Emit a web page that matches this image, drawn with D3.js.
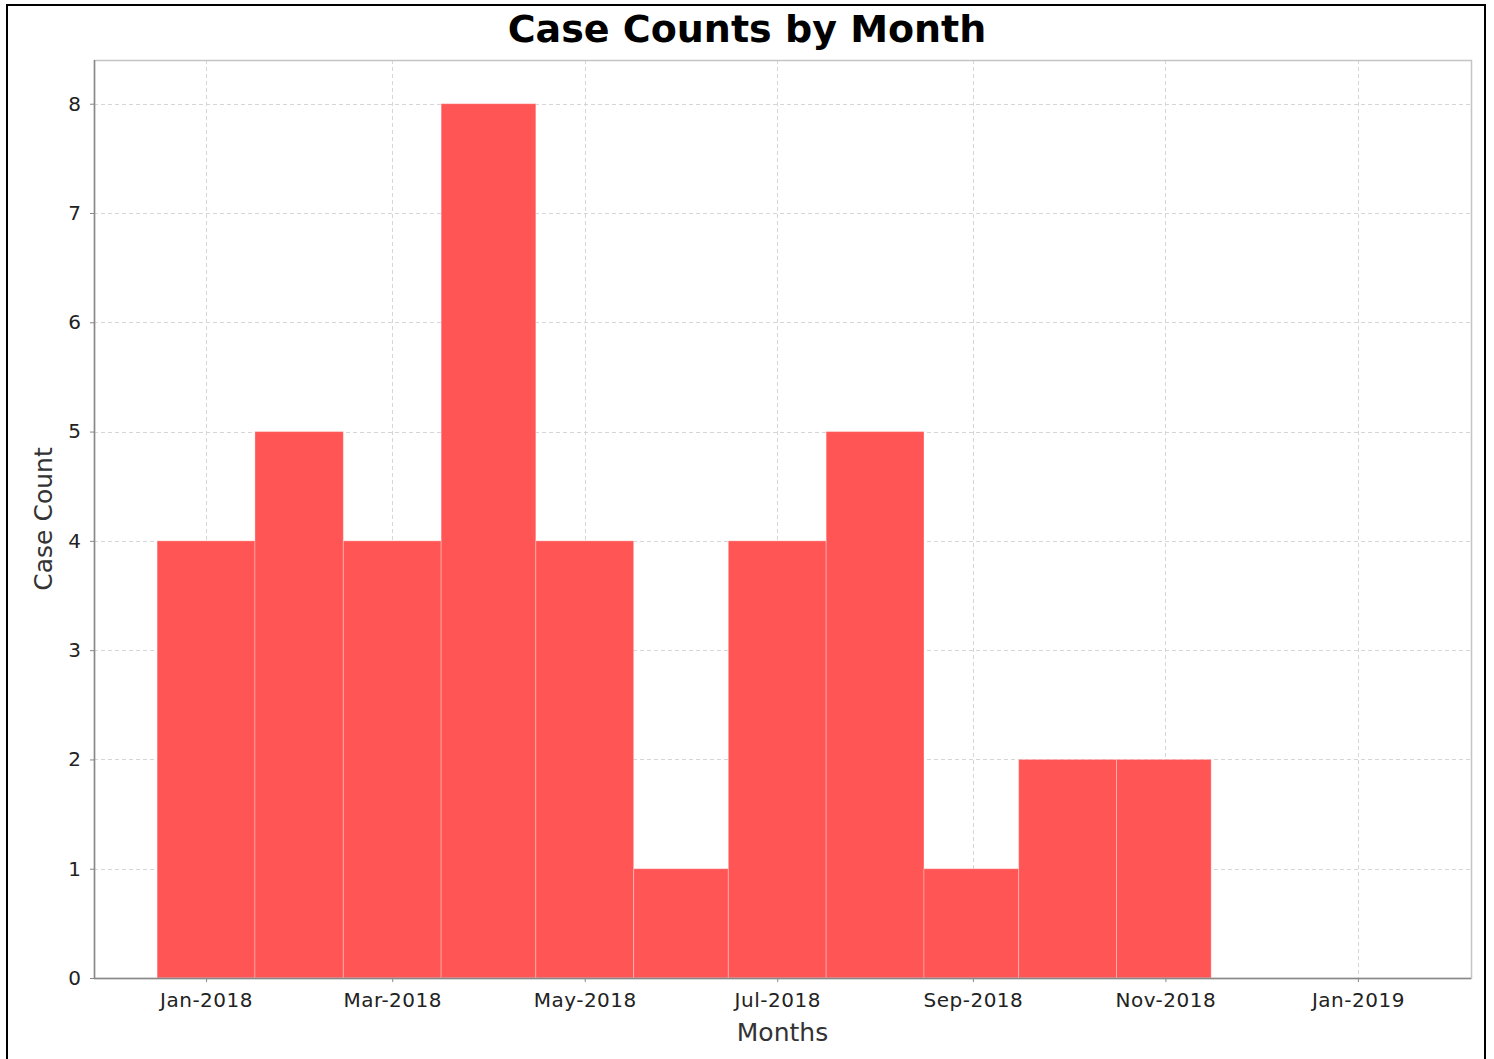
<!DOCTYPE html>
<html>
<head>
<meta charset="utf-8">
<script src="https://cdn.jsdelivr.net/npm/d3@7"></script>
<style>
  body { margin: 0; background: #fff; }
  svg { display: block; font-family: "DejaVu Sans", sans-serif; }
</style>
</head>
<body>
<div id="viz"></div>
<script>
// donnees
var months = ['2018-01', '2018-02', '2018-03', '2018-04', '2018-05', '2018-06',
              '2018-07', '2018-08', '2018-09', '2018-10', '2018-11'];
var counts = [4, 5, 4, 8, 4, 1, 4, 5, 1, 2, 2];
var yTicks = [0, 1, 2, 3, 4, 5, 6, 7, 8];
var xTickMonths = ['2018-01', '2018-03', '2018-05', '2018-07', '2018-09', '2018-11', '2019-01'];

var W = 1494, H = 1059;
var plotL = 94, plotR = 1471, plotT = 60, plotB = 978;

var parse = d3.utcParse('%Y-%m');
var data = months.map((m, i) => ({ date: parse(m), count: counts[i] }));

var svg = d3.select('#viz').append('svg')
  .attr('width', W)
  .attr('height', H);

var x = d3.scaleUtc()
  .domain([new Date(Date.UTC(2017, 10, 26, 12)), new Date(Date.UTC(2019, 1, 5, 20))])
  .range([plotL, plotR]);
var y = d3.scaleLinear().domain([0, 8.4]).range([plotB, plotT]);

// bord exterieur
svg.append('rect')
  .attr('x', 7).attr('y', 5)
  .attr('width', 1478).attr('height', H + 10)
  .style('fill', 'none').style('stroke', '#000').style('stroke-width', 2);

// titre
svg.append('text')
  .attr('x', W / 2).attr('y', 42)
  .attr('text-anchor', 'middle')
  .style('font-size', '38px').style('font-weight', 'bold')
  .text('Case Counts by Month');

// grille
var grid = svg.append('g').style('stroke', '#d6d6d6').style('stroke-width', 1).style('stroke-dasharray', '4,3');
grid.selectAll('line.h').data(yTicks).join('line')
  .attr('class', 'h')
  .attr('x1', plotL).attr('x2', plotR)
  .attr('y1', d => Math.round(y(d)) + 0.5).attr('y2', d => Math.round(y(d)) + 0.5);
grid.selectAll('line.v').data(xTickMonths.map(parse)).join('line')
  .attr('class', 'v')
  .attr('y1', plotT).attr('y2', plotB)
  .attr('x1', d => Math.round(x(d)) + 0.5).attr('x2', d => Math.round(x(d)) + 0.5);

// barres : une barre = la duree du mois, decalee d'un demi-mois (15.5 j) vers la gauche
var shift = d => new Date(d.getTime() - 15.5 * 864e5);
svg.append('g').selectAll('rect').data(data).join('rect')
  .attr('x', d => x(shift(d.date)))
  .attr('width', d => x(shift(d3.utcMonth.offset(d.date, 1))) - x(shift(d.date)))
  .attr('y', d => y(d.count))
  .attr('height', d => y(0) - y(d.count))
  .style('fill', '#ff5555')
  .style('stroke', 'rgba(255,255,255,0.3)')
  .style('stroke-width', 1);

// cadre du graphique
svg.append('rect')
  .attr('x', plotL + 0.5).attr('y', plotT + 0.5)
  .attr('width', plotR - plotL).attr('height', plotB - plotT)
  .style('fill', 'none').style('stroke', '#c4c4c4').style('stroke-width', 1.5);

// axes
var xAxis = d3.axisBottom(x)
  .tickValues(xTickMonths.map(parse))
  .tickFormat(d3.utcFormat('%b-%Y'))
  .tickSize(4).tickPadding(11);
var gx = svg.append('g').attr('transform', `translate(0,${plotB})`).call(xAxis);
gx.select('.domain').attr('d', `M${plotL},0.5H${plotR}`).style('stroke', '#888').style('stroke-width', 1.5);
gx.selectAll('.tick line').style('stroke', '#888');
gx.selectAll('.tick text')
  .style('font-size', '20px').style('letter-spacing', '0.5px')
  .style('font-family', '"DejaVu Sans", sans-serif').style('fill', '#222');

var yAxis = d3.axisLeft(y).tickValues(yTicks).tickFormat(d3.format('d')).tickSize(4).tickPadding(9);
var gy = svg.append('g').attr('transform', `translate(${plotL},0)`).call(yAxis);
gy.select('.domain').attr('d', `M0.5,${plotT}V${plotB}`).style('stroke', '#888').style('stroke-width', 1.5);
gy.selectAll('.tick line').style('stroke', '#888');
gy.selectAll('.tick text')
  .style('font-size', '20px')
  .style('font-family', '"DejaVu Sans", sans-serif').style('fill', '#222');

// titres des axes
svg.append('text')
  .attr('x', (plotL + plotR) / 2).attr('y', 1041)
  .attr('text-anchor', 'middle')
  .style('font-size', '25px').style('fill', '#333')
  .text('Months');
svg.append('text')
  .attr('transform', `translate(52,${(plotT + plotB) / 2}) rotate(-90)`)
  .attr('text-anchor', 'middle')
  .style('font-size', '25px').style('fill', '#333')
  .text('Case Count');
</script>
</body>
</html>
